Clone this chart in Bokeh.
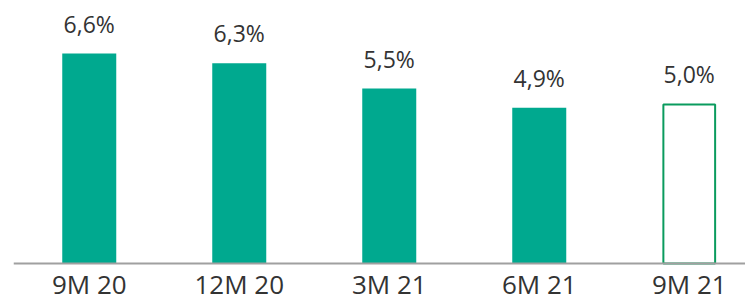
from bokeh.plotting import figure
from bokeh.models import ColumnDataSource, FixedTicker, Range1d
from bokeh.core.properties import value
from bokeh.embed import file_html
from bokeh.resources import INLINE

categories = ["9M 20", "12M 20", "3M 21", "6M 21", "9M 21"]
values = [6.6, 6.3, 5.5, 4.9, 5.0]
labels = ["6,6%", "6,3%", "5,5%", "4,9%", "5,0%"]
filled = [True, True, True, True, False]

xs = list(range(len(categories)))
src_f = ColumnDataSource(dict(x=[x for x, f in zip(xs, filled) if f],
                              top=[v for v, f in zip(values, filled) if f]))
src_o = ColumnDataSource(dict(x=[x for x, f in zip(xs, filled) if not f],
                              top=[v for v, f in zip(values, filled) if not f]))
src_t = ColumnDataSource(dict(x=xs, y=values, t=labels))

p = figure(width=745, height=305, output_backend="svg", toolbar_location=None,
           x_range=Range1d(-0.505, 4.375), y_range=Range1d(-1.321, 8.27),
           min_border_left=13, min_border_right=0, min_border_top=0, min_border_bottom=0)
p.outline_line_color = None
p.grid.visible = False
p.yaxis.visible = False

p.vbar(x="x", top="top", width=0.36, bottom=0, source=src_f,
       fill_color="#00A98F", line_color=None)
p.vbar(x="x", top="top", width=0.345, bottom=0, source=src_o,
       fill_color="white", line_color="#0A9B5E", line_width=2)

p.text(x="x", y="y", text="t", source=src_t, y_offset=-30,
       text_align="center", text_baseline="alphabetic",
       text_font=value("Open Sans"), text_font_size="23px", text_color="#333333")

ax = p.xaxis[0]
ax.fixed_location = 0
ax.ticker = FixedTicker(ticks=xs)
ax.major_label_overrides = {i: c for i, c in enumerate(categories)}
ax.major_tick_line_color = None
ax.minor_tick_line_color = None
ax.major_tick_out = 0
ax.major_tick_in = 0
ax.axis_line_color = "#A0A0A0"
ax.axis_line_width = 2
ax.major_label_standoff = 3
ax.major_label_text_font = "Open Sans"
ax.major_label_text_font_size = "26px"
ax.major_label_text_color = "#333333"

open("out.html", "w").write(file_html(p, INLINE))
